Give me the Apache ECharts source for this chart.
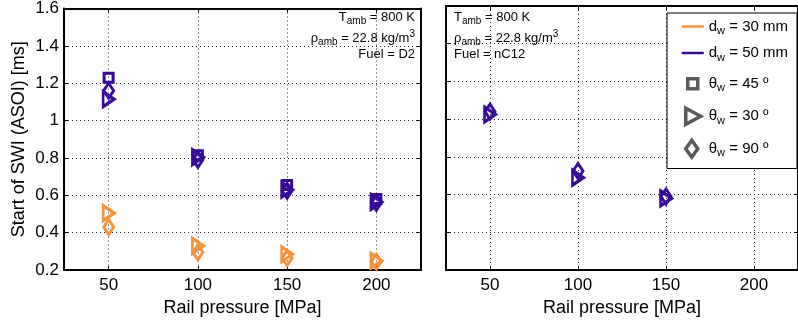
<!DOCTYPE html>
<html>
<head>
<meta charset="utf-8">
<script src="https://cdn.jsdelivr.net/npm/echarts@6/dist/echarts.min.js"></script>
<style>
html,body{margin:0;padding:0;background:#fff;}
#chart{width:798px;height:322px;}
</style>
</head>
<body>
<div id="chart"></div>
<script>
// ---- data ----
const pressureTicks = [50, 100, 150, 200];
const d2Pressure = [50, 100, 150, 200];
const d2_d30_tri = [0.505, 0.33, 0.285, 0.25];
const d2_d30_dia = [0.43, 0.295, 0.265, 0.245];
const d2_d50_sq  = [1.23, 0.815, 0.655, 0.58];
const d2_d50_tri = [1.115, 0.805, 0.63, 0.565];
const d2_d50_dia = [1.16, 0.79, 0.625, 0.56];
const nc12Pressure = [50, 100, 150];
const nc12_d50_tri = [1.025, 0.69, 0.58];
const nc12_d50_dia = [1.04, 0.725, 0.59];

const ORANGE = '#f7913c';
const PURPLE = '#370a96';
const GRAY = '#5a5a5a';
const FONT = 'Liberation Sans, Arial, Helvetica, sans-serif';

const chart = echarts.init(document.getElementById('chart'));

function pts(xs, ys) { return xs.map((x, i) => [x, ys[i]]); }

const SYM = {
  sq:  { symbol: 'rect', symbolSize: [9, 9], symbolRotate: 0 },
  tri: { symbol: 'triangle', symbolSize: [15, 11], symbolRotate: -90 },
  dia: { symbol: 'diamond', symbolSize: [10, 15], symbolRotate: 0 }
};

function scat(name, grid, xs, ys, kind, color) {
  return Object.assign({
    name: name, type: 'scatter', xAxisIndex: grid * 2, yAxisIndex: grid * 2,
    data: pts(xs, ys), z: 3,
    itemStyle: { color: 'rgba(0,0,0,0)', borderColor: color, borderWidth: 3, opacity: 1 },
    emphasis: { disabled: true }
  }, SYM[kind]);
}

const yFmt = v => String(Math.round(v * 10) / 10);

function axesFor(grid, showYLabels) {
  const common = {
    min: 25, max: 225, gridIndex: grid, type: 'value',
    axisLine: { show: true, lineStyle: { color: '#000', width: 2 } },
    axisTick: { show: true, inside: true, length: 4, lineStyle: { color: '#000', width: 1 }, customValues: pressureTicks },
  };
  const xb = Object.assign({}, common, {
    position: 'bottom',
    axisLabel: { color: '#000', fontSize: 17, fontFamily: FONT, margin: 7, customValues: pressureTicks },
    splitLine: { show: true, lineStyle: { color: '#222', width: 1, type: [1, 3] } },
    name: 'Rail pressure [MPa]', nameLocation: 'middle', nameGap: 26,
    nameTextStyle: { color: '#000', fontSize: 18, fontFamily: FONT }
  });
  const xt = Object.assign({}, common, {
    position: 'top', axisLabel: { show: false }, splitLine: { show: false }
  });
  const ycommon = {
    min: 0.2, max: 1.6, interval: 0.2, gridIndex: grid, type: 'value',
    axisLine: { show: true, lineStyle: { color: '#000', width: 2 } },
    axisTick: { show: true, inside: true, length: 4, lineStyle: { color: '#000', width: 1 } }
  };
  const yl = Object.assign({}, ycommon, {
    position: 'left',
    axisLabel: { show: showYLabels, color: '#000', fontSize: 17, fontFamily: FONT, margin: 5, formatter: yFmt },
    splitLine: { show: true, lineStyle: { color: '#222', width: 1, type: [1, 3] } },
    name: showYLabels ? 'Start of SWI (ASOI) [ms]' : '', nameLocation: 'middle', nameGap: 36,
    nameTextStyle: { color: '#000', fontSize: 18, fontFamily: FONT }
  });
  const yr = Object.assign({}, ycommon, {
    position: 'right', axisLabel: { show: false }, splitLine: { show: false }
  });
  return { x: [xb, xt], y: [yl, yr] };
}

const a0 = axesFor(0, true), a1 = axesFor(1, false);
const xAxes = [a0.x[0], a0.x[1], a1.x[0], a1.x[1]];
const yAxes = [a0.y[0], a0.y[1], a1.y[0], a1.y[1]];

const legendLabels = {
  d30: '{m|d}{s|w}{m| = 30 mm}',
  d50: '{m|d}{s|w}{m| = 50 mm}',
  q45: '{m|θ}{s|w}{m| = 45 º}',
  q30: '{m|θ}{s|w}{m| = 30 º}',
  q90: '{m|θ}{s|w}{m| = 90 º}'
};

const hollowGray = { color: 'rgba(0,0,0,0)', borderColor: GRAY, borderWidth: 3.5, opacity: 1 };
const legendData = [
  { name: 'd30', icon: 'path://M0 0H22V2.5H0Z', itemStyle: { color: ORANGE, borderWidth: 0 } },
  { name: 'd50', icon: 'path://M0 0H22V2.5H0Z', itemStyle: { color: PURPLE, borderWidth: 0 } },
  { name: 'q45', icon: 'path://M0 0M22 20M6 5H16V15H6Z', itemStyle: hollowGray },
  { name: 'q30', icon: 'path://M0 0M22 20M4 2L19 10L4 18Z', itemStyle: hollowGray },
  { name: 'q90', icon: 'path://M0 0M22 20M10 1.5L16 10L10 18.5L4 10Z', itemStyle: hollowGray }
];

const series = [
  { name: 'd30', type: 'line', data: [], xAxisIndex: 0, yAxisIndex: 0, symbol: 'none', color: ORANGE, lineStyle: { color: ORANGE, width: 2.5 } },
  { name: 'd50', type: 'line', data: [], xAxisIndex: 0, yAxisIndex: 0, symbol: 'none', color: PURPLE, lineStyle: { color: PURPLE, width: 2.5 } },
  Object.assign({ name: 'q45', type: 'scatter', data: [], xAxisIndex: 0, yAxisIndex: 0, itemStyle: hollowGray }, SYM.sq),
  Object.assign({ name: 'q30', type: 'scatter', data: [], xAxisIndex: 0, yAxisIndex: 0, itemStyle: hollowGray }, SYM.tri),
  Object.assign({ name: 'q90', type: 'scatter', data: [], xAxisIndex: 0, yAxisIndex: 0, itemStyle: hollowGray }, SYM.dia),
  scat('D2 d30 30°', 0, d2Pressure, d2_d30_tri, 'tri', ORANGE),
  scat('D2 d30 90°', 0, d2Pressure, d2_d30_dia, 'dia', ORANGE),
  scat('D2 d50 45°', 0, d2Pressure, d2_d50_sq, 'sq', PURPLE),
  scat('D2 d50 30°', 0, d2Pressure, d2_d50_tri, 'tri', PURPLE),
  scat('D2 d50 90°', 0, d2Pressure, d2_d50_dia, 'dia', PURPLE),
  scat('nC12 d50 30°', 1, nc12Pressure, nc12_d50_tri, 'tri', PURPLE),
  scat('nC12 d50 90°', 1, nc12Pressure, nc12_d50_dia, 'dia', PURPLE)
];

const annRich = {
  m: { fontSize: 13, fontFamily: FONT, color: '#000', lineHeight: 18 },
  s: { fontSize: 10, fontFamily: FONT, color: '#000', lineHeight: 10, verticalAlign: 'bottom' },
  p: { fontSize: 10, fontFamily: FONT, color: '#000', lineHeight: 10, verticalAlign: 'top' }
};
const annLines = ['{m|T}{s|amb}{m| = 800 K}', '{m|ρ}{s|amb}{m| = 22.8 kg/m}{p|3}'];
const annTops = [11, 29, 48];

function annotation(fuel, side, pos) {
  const lines = annLines.concat(['{m|Fuel = ' + fuel + '}']);
  return lines.map((t, i) => {
    const el = { type: 'text', top: annTops[i], z: 10, style: { text: t, rich: annRich } };
    el[side] = pos;
    return el;
  });
}

const option = {
  animation: false,
  backgroundColor: '#fff',
  grid: [
    { left: 64, top: 6, width: 357, height: 266 },
    { left: 446, top: 6, width: 357, height: 266 }
  ],
  xAxis: xAxes,
  yAxis: yAxes,
  legend: {
    data: legendData,
    orient: 'vertical', left: 667, top: 13,
    padding: [6, 9, 8, 13], itemGap: 9, itemWidth: 22, itemHeight: 20,
    backgroundColor: '#fff', borderColor: '#000', borderWidth: 1,
    selectedMode: false,
    formatter: n => legendLabels[n],
    textStyle: {
      color: '#000', fontFamily: FONT,
      rich: {
        m: { fontSize: 15, fontFamily: FONT, color: '#000', lineHeight: 20 },
        s: { fontSize: 11, fontFamily: FONT, color: '#000', lineHeight: 11, verticalAlign: 'bottom' }
      }
    }
  },
  graphic: annotation('D2', 'right', 798 - 415).concat(annotation('nC12', 'left', 454)),
  series: series
};
chart.setOption(option);
</script>
</body>
</html>
